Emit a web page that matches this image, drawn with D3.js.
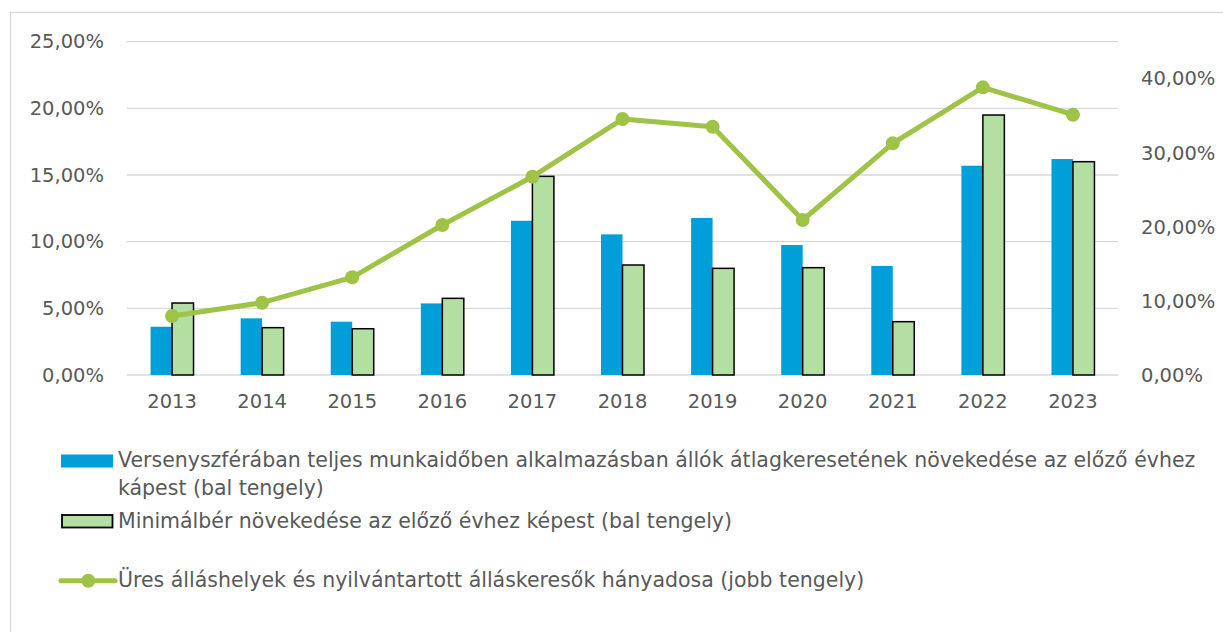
<!DOCTYPE html>
<html>
<head>
<meta charset="utf-8">
<script src="https://cdn.jsdelivr.net/npm/d3@7.9.0/dist/d3.min.js"></script>
<style>
  body { margin: 0; background: #fff; }
  svg { display: block; }
  .tick text { font-family: "DejaVu Sans", sans-serif; }
</style>
</head>
<body>
<svg id="chart" width="1223" height="632"></svg>
<script>
const years = ['2013','2014','2015','2016','2017','2018','2019','2020','2021','2022','2023'];
const wageGrowth = [3.62, 4.25, 4.0, 5.37, 11.57, 10.55, 11.78, 9.75, 8.18, 15.7, 16.2];
const minWageGrowth = [5.4, 3.55, 3.47, 5.75, 14.9, 8.25, 8.0, 8.05, 4.0, 19.5, 16.0];
const vacancyRatio = [7.97, 9.76, 13.19, 20.25, 26.77, 34.56, 33.52, 20.93, 31.28, 38.84, 35.14];
const leftTicks = [0, 5, 10, 15, 20, 25];
const rightTicks = [0, 10, 20, 30, 40];
const legendLabels = [
  ['Versenyszférában teljes munkaidőben alkalmazásban állók átlagkeresetének növekedése az előző évhez', 'kápest (bal tengely)'],
  ['Minimálbér növekedése az előző évhez képest (bal tengely)'],
  ['Üres álláshelyek és nyilvántartott álláskeresők hányadosa (jobb tengely)']
];

const blue = '#009fda', lightGreen = '#b3dfa2', lineGreen = '#9fc346';
const fmt = v => v.toFixed(2).replace('.', ',') + '%';

const svg = d3.select('#chart');
const plot = { left: 127, right: 1118, top: 41.7, bottom: 375 };

// outer frame
svg.append('rect').attr('x', 10.5).attr('y', 12.5).attr('width', 1240).attr('height', 640)
  .attr('fill', 'none').attr('stroke', '#d9d9d9').attr('stroke-width', 1.3);

const x = d3.scaleBand().domain(years).range([plot.left, plot.right])
  .paddingInner(0.523).paddingOuter(0.2615);
const xSeries = d3.scaleBand().domain(['wage', 'min']).range([0, x.bandwidth()]);
const yLeft = d3.scaleLinear().domain([0, 25]).range([plot.bottom, plot.top]);
const yRight = d3.scaleLinear().domain([0, 45]).range([plot.bottom, plot.top]);

// gridlines
svg.append('g').selectAll('line').data(leftTicks).join('line')
  .attr('x1', plot.left).attr('x2', plot.right)
  .attr('y1', d => yLeft(d)).attr('y2', d => yLeft(d))
  .attr('stroke', '#d9d9d9').attr('stroke-width', 1.3);

// left axis
const gl = svg.append('g').attr('transform', `translate(${plot.left - 16},0)`)
  .call(d3.axisLeft(yLeft).tickValues(leftTicks).tickFormat(fmt).tickSize(0).tickPadding(7));
gl.select('.domain').remove();
gl.selectAll('text').attr('fill', '#595959').style('font-size', '19.5px');

// right axis
const gr = svg.append('g').attr('transform', `translate(${plot.right + 23},0)`)
  .call(d3.axisRight(yRight).tickValues(rightTicks).tickFormat(fmt).tickSize(0).tickPadding(0));
gr.select('.domain').remove();
gr.selectAll('text').attr('fill', '#595959').style('font-size', '19.5px');

// x axis
const gx = svg.append('g').attr('transform', `translate(0,${plot.bottom + 19})`)
  .call(d3.axisBottom(x).tickSize(0).tickPadding(0));
gx.select('.domain').remove();
gx.selectAll('text').attr('fill', '#595959').style('font-size', '19.5px');

// bars
const groups = svg.append('g').selectAll('g').data(years).join('g')
  .attr('transform', d => `translate(${x(d)},0)`);
groups.append('rect')
  .attr('x', xSeries('wage')).attr('width', xSeries.bandwidth())
  .attr('y', (d, i) => yLeft(wageGrowth[i]))
  .attr('height', (d, i) => yLeft(0) - yLeft(wageGrowth[i]))
  .attr('fill', blue);
groups.append('rect')
  .attr('x', xSeries('min')).attr('width', xSeries.bandwidth())
  .attr('y', (d, i) => yLeft(minWageGrowth[i]))
  .attr('height', (d, i) => yLeft(0) - yLeft(minWageGrowth[i]))
  .attr('fill', lightGreen).attr('stroke', '#000').attr('stroke-width', 1.5);

// line
const cx = d => x(d) + x.bandwidth() / 2;
svg.append('path').datum(years)
  .attr('d', d3.line().x(cx).y((d, i) => yRight(vacancyRatio[i])))
  .attr('fill', 'none').attr('stroke', lineGreen).attr('stroke-width', 5)
  .attr('stroke-linejoin', 'round');
svg.append('g').selectAll('circle').data(years).join('circle')
  .attr('cx', cx).attr('cy', (d, i) => yRight(vacancyRatio[i]))
  .attr('r', 7).attr('fill', lineGreen);

// legend
const lg = svg.append('g').style('font-family', '"DejaVu Sans", sans-serif').style('font-size', '20.5px').attr('fill', '#595959');
lg.append('rect').attr('x', 61).attr('y', 454.5).attr('width', 52).attr('height', 13).attr('fill', blue);
lg.append('rect').attr('x', 62).attr('y', 515).attr('width', 50.5).attr('height', 12.5)
  .attr('fill', lightGreen).attr('stroke', '#000').attr('stroke-width', 1.8);
lg.append('line').attr('x1', 61).attr('x2', 115).attr('y1', 580.7).attr('y2', 580.7)
  .attr('stroke', lineGreen).attr('stroke-width', 5).attr('stroke-linecap', 'round');
lg.append('circle').attr('cx', 88.3).attr('cy', 580.7).attr('r', 7).attr('fill', lineGreen);

const textY = [[466.7, 495], [528.3], [586.7]];
legendLabels.forEach((lines, i) => {
  lines.forEach((t, j) => {
    lg.append('text').attr('x', 118).attr('y', textY[i][j]).text(t);
  });
});
</script>
</body>
</html>
